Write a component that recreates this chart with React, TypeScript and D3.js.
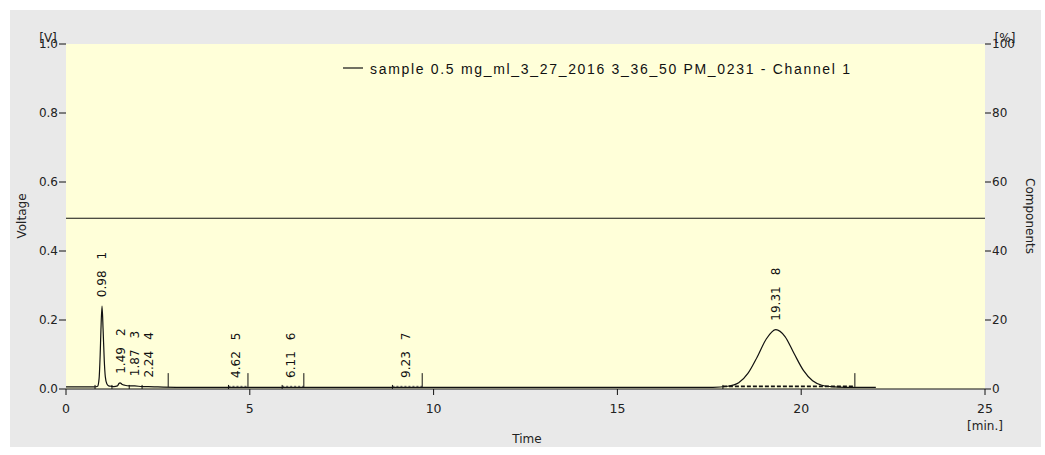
import React from "react";
import * as d3 from "d3";

// Detector trace (time in min, signal in V)
const traceTime = [0, 0.78, 0.86, 0.9, 0.93, 0.95, 0.98, 1.01, 1.04, 1.07, 1.11, 1.16, 1.22, 1.3, 1.4, 1.44, 1.47, 1.52, 1.6, 1.72, 1.87, 2.07, 2.24, 2.5, 3.0, 4.0, 6.0, 9.0, 12.0, 17.6, 18.0, 18.3, 18.55, 18.8, 19.05, 19.31, 19.56, 19.81, 20.06, 20.31, 20.56, 20.8, 21.2, 22.03];
const traceVolt = [0.006, 0.006, 0.008, 0.03, 0.1, 0.17, 0.24, 0.17, 0.085, 0.035, 0.015, 0.009, 0.008, 0.007, 0.009, 0.016, 0.018, 0.014, 0.011, 0.009, 0.009, 0.007, 0.007, 0.006, 0.005, 0.005, 0.005, 0.005, 0.005, 0.005, 0.008, 0.018, 0.045, 0.092, 0.145, 0.172, 0.152, 0.102, 0.054, 0.024, 0.011, 0.007, 0.005, 0.005];

// Integrated peaks
const peakIds = [1, 2, 3, 4, 5, 6, 7, 8];
const peakTimes = [0.98, 1.49, 1.87, 2.24, 4.62, 6.11, 9.23, 19.31];
const peakApex = [0.24, 0.018, 0.011, 0.007, 0.006, 0.006, 0.006, 0.172];

// Integration events: boundary marks and end-of-window marks
const boundaryTimes = [0.79, 1.25, 1.72, 2.07, 4.42, 5.88, 8.88, 17.87];
const eventTimes = [2.78, 4.95, 6.47, 9.69, 21.46];
const baselineStart = [4.42, 5.88, 8.88, 17.87];
const baselineEnd = [4.95, 6.47, 9.69, 21.46];
const baselineLevel = 0.006;
const eventHeight = 0.04;

// Reference level line
const referenceLevel = 0.495;

// Axis ticks
const voltTicks = [0, 0.2, 0.4, 0.6, 0.8, 1.0];
const pctTicks = [0, 20, 40, 60, 80, 100];
const timeTicks = [0, 5, 10, 15, 20, 25];

const legendText = "sample 0.5 mg_ml_3_27_2016 3_36_50 PM_0231 -  Channel 1";

const W = 1045;
const H = 455;
const L = 66;
const R = 985;
const T = 44;
const B = 389;

const FONT = "'DejaVu Sans', Verdana, sans-serif";

export default function App() {
  const x = d3.scaleLinear().domain([0, 25]).range([L, R]);
  const y = d3.scaleLinear().domain([0, 1]).range([B, T]);
  const yp = d3.scaleLinear().domain([0, 100]).range([B, T]);

  const pts: [number, number][] = traceTime.map((t, i) => [t, traceVolt[i]]);
  const line = d3
    .line<[number, number]>()
    .x((d) => x(d[0]))
    .y((d) => y(d[1]))
    .curve(d3.curveMonotoneX);

  return (
    <svg
      width={W}
      height={H}
      style={{ position: "absolute", left: 0, top: 0, display: "block" }}
      fontFamily={FONT}
    >
      <rect x={0} y={0} width={W} height={H} fill="#ffffff" />
      <rect x={10} y={10} width={1031} height={437} fill="#e9e9e9" />
      <rect x={L} y={T} width={R - L} height={B - T} fill="#ffffd9" />

      {/* reference level */}
      <line x1={L} x2={R} y1={y(referenceLevel)} y2={y(referenceLevel)} stroke="#111" strokeWidth={1.2} />

      {/* legend */}
      <line x1={343} x2={363} y1={68} y2={68} stroke="#111" strokeWidth={1.2} />
      <text
        x={370}
        y={74}
        fontFamily="'Liberation Sans', Arial, sans-serif"
        fontSize={14}
        fill="#111"
        textLength={480}
        lengthAdjust="spacing"
      >
        {legendText}
      </text>

      {/* peak baselines */}
      {baselineStart.map((s, i) => (
        <line
          key={"bl" + i}
          x1={x(s)}
          x2={x(baselineEnd[i])}
          y1={y(baselineLevel) - 0.5}
          y2={y(baselineLevel) - 0.5}
          stroke={i === 3 ? "#111" : "#777"}
          strokeWidth={i === 3 ? 1.8 : 1.2}
          strokeDasharray={i === 3 ? "4 2" : "2 2"}
        />
      ))}

      {/* trace */}
      <path d={line(pts) || ""} fill="none" stroke="#111" strokeWidth={1.2} />

      {/* integration events */}
      {boundaryTimes.map((t, i) => (
        <line key={"bt" + i} x1={x(t)} x2={x(t)} y1={y(baselineLevel) - 2} y2={y(baselineLevel) + 2} stroke="#111" strokeWidth={1} />
      ))}
      {eventTimes.map((t, i) => (
        <line key={"ev" + i} x1={x(t)} x2={x(t)} y1={y(baselineLevel)} y2={y(baselineLevel + eventHeight)} stroke="#111" strokeWidth={1} />
      ))}

      {/* peak labels */}
      {peakTimes.map((t, i) => (
        <text
          key={"pl" + i}
          transform={`translate(${x(t)},${y(peakApex[i]) - 9}) rotate(-90)`}
          dy="0.36em"
          fontSize={12}
          fill="#111"
        >
          {t.toFixed(2)}
          <tspan dx={11}>{peakIds[i]}</tspan>
        </text>
      ))}

      {/* bottom axis */}
      <line x1={L} x2={R} y1={B} y2={B} stroke="#111" strokeWidth={1.2} />
      {timeTicks.map((t) => (
        <g key={"xt" + t}>
          <line x1={x(t)} x2={x(t)} y1={B} y2={B + 6} stroke="#111" />
          <text x={x(t)} y={B + 24} textAnchor="middle" fontSize={12.5} fill="#222">
            {t}
          </text>
        </g>
      ))}
      <text x={527} y={443} textAnchor="middle" fontSize={12} fill="#222">
        Time
      </text>
      <text x={985} y={430} textAnchor="middle" fontSize={12} fill="#222">
        [min.]
      </text>

      {/* left axis */}
      {voltTicks.map((v) => (
        <g key={"yl" + v}>
          <line x1={L - 7} x2={L} y1={y(v)} y2={y(v)} stroke="#111" />
          <text x={L - 8} y={y(v)} dy="0.36em" textAnchor="end" fontSize={12} fill="#222">
            {v.toFixed(1)}
          </text>
        </g>
      ))}
      <text x={48} y={T - 2} textAnchor="middle" fontSize={12} fill="#222">
        [V]
      </text>
      <text transform={`translate(26,216) rotate(-90)`} textAnchor="middle" fontSize={12} fill="#222">
        Voltage
      </text>

      {/* right axis */}
      {pctTicks.map((p) => (
        <g key={"yr" + p}>
          <line x1={R} x2={R + 6} y1={yp(p)} y2={yp(p)} stroke="#111" />
          <text x={R + 7} y={yp(p)} dy="0.36em" textAnchor="start" fontSize={12} fill="#222">
            {p}
          </text>
        </g>
      ))}
      <text x={1005} y={T - 2} textAnchor="middle" fontSize={12} fill="#222">
        [%]
      </text>
      <text transform={`translate(1026,216) rotate(90)`} textAnchor="middle" fontSize={12} fill="#222">
        Components
      </text>
    </svg>
  );
}
